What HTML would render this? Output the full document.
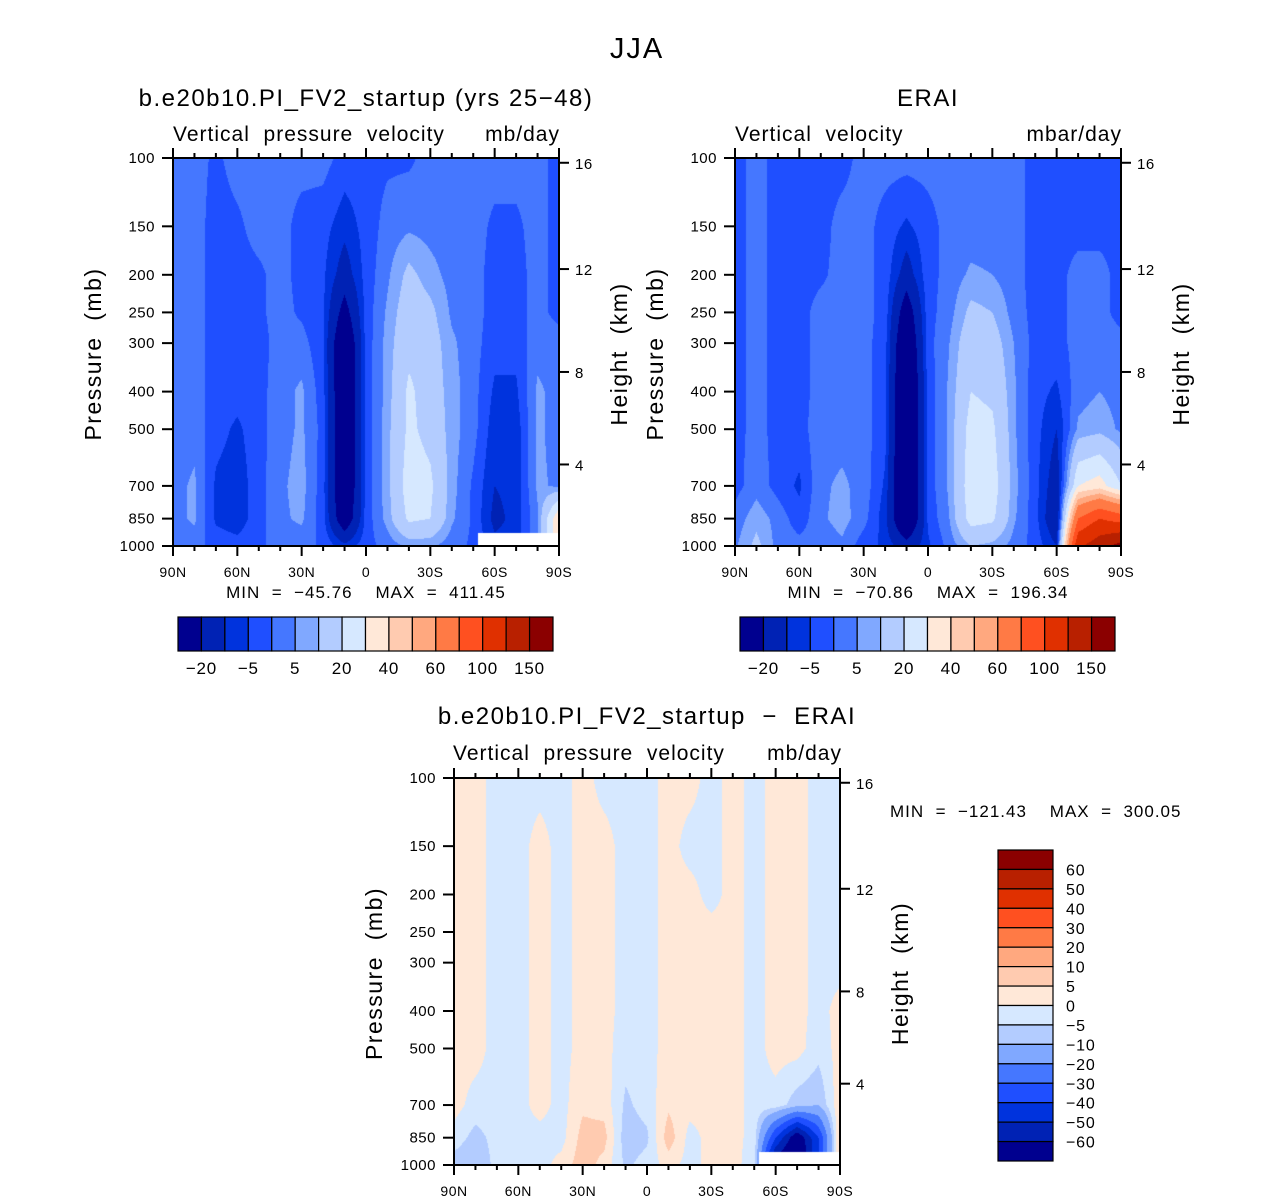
<!DOCTYPE html>
<html><head><meta charset="utf-8"><style>
html,body{margin:0;padding:0;background:#fff;}
#wrap{position:relative;width:1285px;height:1203px;overflow:hidden;font-family:"Liberation Sans",sans-serif;}
canvas{position:absolute;}
svg{position:absolute;left:0;top:0;}
svg text{white-space:pre;}
</style></head><body>
<div id="wrap">
<canvas id="c1"></canvas>
<canvas id="c2"></canvas>
<canvas id="c3"></canvas>
<svg id="s" width="1285" height="1203"></svg>
</div>
<script>
// ---- data ----
const lats = [90,80,70,60,50,40,30,20,10,0,-10,-20,-30,-40,-50,-60,-70,-80,-90];
const pLevels = [100,150,200,250,300,400,500,700,850,1000];
const pTickLabels = ["100","150","200","250","300","400","500","700","850","1000"];
const heightTicks = [16,12,8,4];
const latTickVals = [90,60,30,0,-30,-60,-90];
const latTickLabels = ["90N","60N","30N","0","30S","60S","90S"];
const absLevels = [-20,-10,-5,0,5,10,20,30,40,50,60,80,100,125,150];
const absLabels = ["−20","−5","5","20","40","60","100","150"];
const diffLevels = [-60,-50,-40,-30,-20,-10,-5,0,5,10,20,30,40,50,60];
const diffLabels = ["−60","−50","−40","−30","−20","−10","−5","0","5","10","20","30","40","50","60"];
const palette = ["#00008f","#0022b4","#0033dd","#1f4fff","#4577ff","#80a8ff","#b3ccff","#d6e8ff","#ffe8d8","#ffcbb0","#ffa87f","#ff7a45","#ff5020","#e03000","#b82000","#8b0000"];
// fields: one array per latitude, values at pLevels (mb/day)
const modelField = [
[2,2,2,2,2,2,2,3,3,2],[2,2,2,2,2,2,3,6,6,2],[-1,-2,-2,-2,-2,-2,-3,-6,-6,-2],
[2,-1,-2,-2,-2,-3,-6,-8,-8,-3],[2,2,-1,-1,-2,-2,-2,-2,-2,-1],[2,2,2,2,2,3,3,4,4,2],
[2,-2,-2,-1,2,6,6,7,6,2],[2,-3,-4,-4,-4,-3,-2,-3,-3,-1],[-2,-8,-14,-25,-35,-35,-35,-35,-30,-8],
[-2,-3,-3,-3,-3,-3,-3,-3,-3,-2],[-1,2,4,6,7,7,8,8,7,2],[-1,4,12,15,17,22,22,25,22,6],
[2,3,7,12,14,15,17,22,20,6],[2,2,3,4,6,7,7,7,6,2],[2,2,2,2,2,2,2,-1,-1,-1],
[2,-1,-2,-2,-3,-6,-8,-10,-12,-8],[2,-1,-2,-2,-3,-6,-8,-8,-8,-8],[2,2,2,2,3,6,6,6,4,4],
[-2,-2,-2,-2,3,3,3,4,40,40]];
const eraiField = [
[-2,-2,-2,-2,-2,-2,-2,-2,2,4],[2,2,2,2,2,2,2,3,8,12],[-2,-2,-2,-2,-2,-2,-2,-2,3,3],
[-2,-2,-2,-2,-2,-2,-2,-6,-3,2],[-2,-2,-1,2,2,2,3,4,4,2],[-2,2,2,2,2,2,3,6,7,4],
[2,2,2,2,2,2,2,3,2,-3],[2,-2,-2,-2,-3,-3,-3,-6,-8,-6],[2,-6,-14,-28,-35,-40,-40,-40,-38,-15],
[2,-2,-2,-2,-2,-3,-3,-3,-4,-6],[2,2,2,3,5,6,6,6,5,2],[2,2,6,12,16,20,24,26,24,10],
[2,2,5,10,14,18,22,25,22,8],[2,2,2,3,5,6,6,7,6,3],[-2,-2,-2,-2,-2,-3,-3,-3,-3,-2],
[-2,-2,-2,-2,-2,-6,-10,-15,-18,-10],[-2,-2,2,2,2,3,6,30,80,120],[-2,-2,2,2,2,5,8,35,100,140],
[-2,-2,-2,-2,2,3,4,20,90,160]];
const diffField = [
[2,2,2,2,2,2,2,2,-2,-8],[2,2,2,2,2,2,2,-2,-7,-10],[-2,-2,-2,-2,-2,-2,-2,-2,-3,-3],
[-2,-2,-2,-2,-2,-2,-2,-2,-2,-2],[-2,2,2,2,2,2,2,2,-2,-2],[-2,-2,-2,-2,-2,-2,-2,-2,-2,2],
[2,2,2,2,2,2,2,4,7,8],[-2,2,2,2,2,2,2,3,7,3],[-2,-2,-2,-2,-2,-2,-3,-6,-8,-6],
[-2,-2,-2,-2,-2,-2,-2,-3,-6,-3],[2,2,2,2,2,2,2,4,8,2],[2,-2,2,2,2,2,2,2,-2,-2],
[-2,-2,-2,2,2,2,2,2,2,2],[2,2,2,2,2,2,2,2,2,2],[-2,-2,-2,-2,-2,-2,-2,-2,-2,-3],
[2,2,2,2,2,2,2,-2,-40,-70],[2,2,2,2,2,2,2,-8,-70,-80],[-2,-2,-2,-2,-2,-2,-3,-10,-40,-40],
[-2,-2,-2,-2,-2,2,2,4,8,8]];
const missingLat = -52, missingP = 925;

// ---- drawing ----
const NS="http://www.w3.org/2000/svg";
const svg=document.getElementById('s');
function mk(tag,attrs,name){const e=document.createElementNS(NS,tag);for(const k in attrs)e.setAttribute(k,attrs[k]);


svg.appendChild(e);return e;}
function txt(x,y,s,size,anchor,name,rot,ls){const e=mk('text',{x:x,y:y,'font-size':size,'text-anchor':anchor||'middle','font-family':'Liberation Sans, sans-serif',fill:'#000'},name);
if(ls)e.setAttribute('letter-spacing',ls);
if(rot)e.setAttribute('transform','rotate(-90 '+x+' '+y+')');e.textContent=s;return e;}
function heightToP(z){z*=1000;if(z<=11000)return 1013.25*Math.pow(1-2.25577e-5*z,5.25588);return 226.32*Math.exp(-(z-11000)/6341.6);}
function levelIndex(v,levels){let k=0;while(k<levels.length&&v>=levels[k])k++;return k;}
function hexRGB(h){return [parseInt(h.substr(1,2),16),parseInt(h.substr(3,2),16),parseInt(h.substr(5,2),16)];}
const palRGB=palette.map(hexRGB);
const lp=pLevels.map(p=>Math.log10(p));

function drawField(id,px,py,w,h,field,levels,mask){
 const c=document.getElementById(id);c.width=w;c.height=h;c.style.left=px+'px';c.style.top=py+'px';
 const ctx=c.getContext('2d');const img=ctx.createImageData(w,h);
 for(let j=0;j<h;j++){const L=2+(j+0.5)/h;const p=Math.pow(10,L);
  let r=0;while(r<lp.length-2&&L>lp[r+1])r++;let t=(L-lp[r])/(lp[r+1]-lp[r]);t=Math.max(0,Math.min(1,t));
  for(let i=0;i<w;i++){const f=(i+0.5)/w*(lats.length-1);let a=Math.min(lats.length-2,Math.floor(f));const u=f-a;
   const v=(1-u)*((1-t)*field[a][r]+t*field[a][r+1])+u*((1-t)*field[a+1][r]+t*field[a+1][r+1]);
   const lat=90-f*10;let col;
   if(mask&&lat<missingLat&&p>missingP)col=[255,255,255];else col=palRGB[levelIndex(v,levels)];
   const o=(j*w+i)*4;img.data[o]=col[0];img.data[o+1]=col[1];img.data[o+2]=col[2];img.data[o+3]=255;}}
 ctx.putImageData(img,0,0);
}

function axes(px,py,w,h,pre){
 const yP=p=>py+(Math.log10(p)-2)*h, xL=l=>px+(90-l)/180*w;
 mk('rect',{x:px,y:py,width:w,height:h,fill:'none',stroke:'#000','stroke-width':2},pre+'-plot-frame');
 for(let l=90;l>=-90;l-=10){const x=xL(l);const maj=l%30===0;const L=maj?10:5;
  mk('line',{x1:x,y1:py+h,x2:x,y2:py+h+L,stroke:'#000','stroke-width':2},pre+'-x-tick');
  mk('line',{x1:x,y1:py,x2:x,y2:py-L,stroke:'#000','stroke-width':2},pre+'-x-tick-top');}
 latTickVals.forEach((l,k)=>txt(xL(l),py+h+31,latTickLabels[k],14,'middle',pre+'-x-tick-label',false,0.5));
 pLevels.forEach((p,k)=>{const y=yP(p);mk('line',{x1:px-11,y1:y,x2:px,y2:y,stroke:'#000','stroke-width':2},pre+'-y-tick');
  txt(px-18,y+5,pTickLabels[k],15,'end',pre+'-y-tick-label',false,0.5);});
 heightTicks.forEach(z=>{const y=yP(heightToP(z));mk('line',{x1:px+w,y1:y,x2:px+w+10,y2:y,stroke:'#000','stroke-width':2},pre+'-height-tick');
  txt(px+w+16,y+6,String(z),15,'start',pre+'-height-tick-label',false,0.5);});
 txt(px-72,py+h/2+2,'Pressure  (mb)',23,'middle',pre+'-y-axis-title',true,1.5);
 txt(px+w+68,py+h/2+2,'Height  (km)',23,'middle',pre+'-height-axis-title',true,1.5);
}

function hbar(x,y,w,h,pre){const bw=w/16;
 for(let k=0;k<16;k++)mk('rect',{x:x+k*bw,y:y,width:bw,height:h,fill:palette[k],stroke:'#000','stroke-width':1.2},pre+'-colorbar-box');
 absLabels.forEach((s,k)=>txt(x+(2*k+1)*bw,y+h+23,s,17,'middle',pre+'-colorbar-label',false,0.8));}

txt(637,58,'JJA',29,'middle','figure-title',false,2);
// panel 1
drawField('c1',173,158,386,388,modelField,absLevels,true);
axes(173,158,386,388,'model');
txt(366,106,'b.e20b10.PI_FV2_startup (yrs 25−48)',24,'middle','model-title',false,1.5);
txt(173,141,'Vertical  pressure  velocity',21,'start','model-subtitle',false,1);
txt(560,141,'mb/day',21,'end','model-units',false,1);
txt(366,598,'MIN  =  −45.76    MAX  =  411.45',17,'middle','model-min-max',false,1);
hbar(178,617,375,34,'model');
// panel 2
drawField('c2',735,158,386,388,eraiField,absLevels,false);
axes(735,158,386,388,'erai');
txt(928,106,'ERAI',24,'middle','erai-title',false,1.5);
txt(735,141,'Vertical  velocity',21,'start','erai-subtitle',false,1);
txt(1122,141,'mbar/day',21,'end','erai-units',false,1);
txt(928,598,'MIN  =  −70.86    MAX  =  196.34',17,'middle','erai-min-max',false,1);
hbar(740,617,375,34,'erai');
// panel 3
drawField('c3',454,778,386,387,diffField,diffLevels,true);
axes(454,778,386,387,'diff');
txt(647,724,'b.e20b10.PI_FV2_startup  −  ERAI',24,'middle','diff-title',false,1.5);
txt(453,760,'Vertical  pressure  velocity',21,'start','diff-subtitle',false,1);
txt(842,760,'mb/day',21,'end','diff-units',false,1);
txt(890,817,'MIN  =  −121.43    MAX  =  300.05',17,'start','diff-min-max',false,1);
(function(){const x=998,y=850,w=55,h=311,bh=h/16;
 for(let k=0;k<16;k++)mk('rect',{x:x,y:y+k*bh,width:w,height:bh,fill:palette[15-k],stroke:'#000','stroke-width':1.2},'diff-colorbar-box');
 for(let k=1;k<=15;k++)txt(x+w+13,y+k*bh+6,diffLabels[15-k],16,'start','diff-colorbar-label',false,0.8);})();
</script>
</body></html>
